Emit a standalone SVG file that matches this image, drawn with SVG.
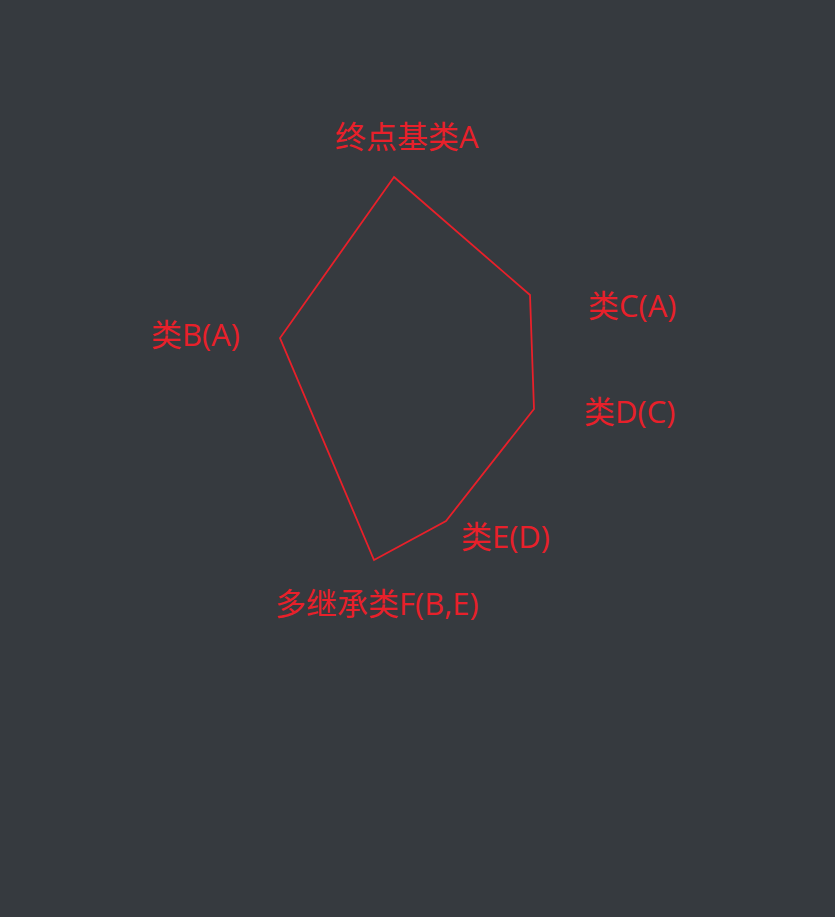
<svg xmlns="http://www.w3.org/2000/svg" width="835" height="917" viewBox="0 0 835 917">
<style>
.lbl{font-family:"Open Sans","Noto Sans CJK SC",sans-serif;font-size:31px;fill:#e8202a}
.edge{fill:none;stroke:#e8202a;stroke-width:1.8;stroke-linejoin:miter}
</style>
<rect width="835" height="917" fill="#363a3f"/>
<g id="connectors">
<path class="edge" d="M394,177 L530,295 L534,409 L446,521 L374,560 L280,338 Z"/>
</g>
<g id="nodeA"><text class="lbl" x="335" y="148">终点基类A</text></g>
<g id="nodeB"><text class="lbl" x="151" y="346">类B(A)</text></g>
<g id="nodeC"><text class="lbl" x="588" y="317">类C(A)</text></g>
<g id="nodeD"><text class="lbl" x="584" y="423">类D(C)</text></g>
<g id="nodeE"><text class="lbl" x="461" y="548">类E(D)</text></g>
<g id="nodeF"><text class="lbl" x="275" y="615">多继承类F(B,E)</text></g>
</svg>
